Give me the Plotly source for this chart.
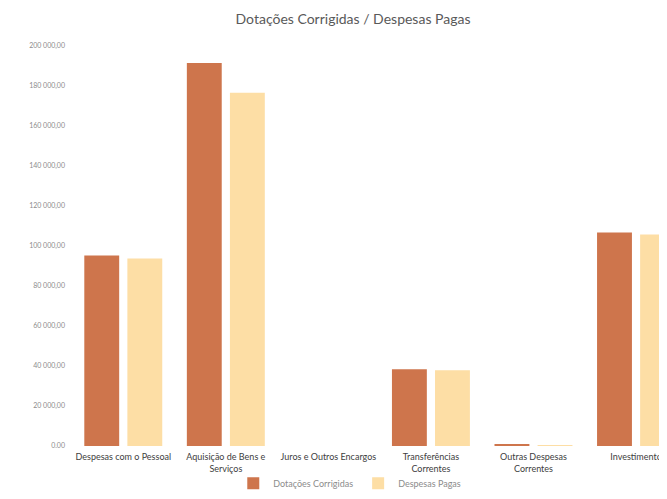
import plotly.graph_objects as go

categories = [
    "Despesas com o Pessoal",
    "Aquisição de Bens e<br>Serviços",
    "Juros e Outros Encargos",
    "Transferências<br>Correntes",
    "Outras Despesas<br>Correntes",
    "Investimento",
]
dotacoes = [95300, 191500, 0, 38400, 1000, 106700]
despesas = [93800, 176600, 0, 37900, 300, 105700]

tick_vals = [0, 20000, 40000, 60000, 80000, 100000, 120000, 140000, 160000, 180000, 200000]
tick_text = ["0.00", "20 000,00", "40 000,00", "60 000,00", "80 000,00", "100 000,00",
             "120 000,00", "140 000,00", "160 000,00", "180 000,00", "200 000,00"]

fig = go.Figure()
fig.add_trace(go.Bar(name="Dotações Corrigidas", x=categories, y=dotacoes,
                     marker=dict(color="#CE754C", line=dict(width=0))))
fig.add_trace(go.Bar(name="Despesas Pagas", x=categories, y=despesas,
                     marker=dict(color="#FDDEA5", line=dict(width=0))))

fig.update_layout(
    width=651, height=483,
    margin=dict(l=64, r=0, t=38, b=45),
    paper_bgcolor="white", plot_bgcolor="white",
    font=dict(family="Lato, Open Sans, sans-serif", color="#595959"),
    title=dict(text="Dotações Corrigidas / Despesas Pagas", x=0.53, xanchor="center",
               y=0.977, yanchor="middle", font=dict(size=14, color="#595959")),
    barmode="group", bargap=0.16, bargroupgap=0.19,
    showlegend=True,
    legend=dict(orientation="h", x=0.525, xanchor="center", xref="container",
                y=0.016, yanchor="middle", yref="container",
                bgcolor="rgba(0,0,0,0)",
                font=dict(size=9, color="#8c8c8c"), itemwidth=30,
                traceorder="normal"),
    xaxis=dict(range=[-0.5, 5.224], showgrid=False, showline=False, zeroline=False,
               tickfont=dict(size=9, color="#404040"), ticks="", tickangle=0,
               ticklabelstandoff=4, automargin=False),
    yaxis=dict(range=[0, 200000], tickvals=tick_vals, ticktext=tick_text,
               showgrid=False, zeroline=False, showline=False, automargin=False,
               tickfont=dict(size=7, color="#8c8c8c"), ticks="", ticklabelstandoff=6),
)

fig.write_html("out.html")
